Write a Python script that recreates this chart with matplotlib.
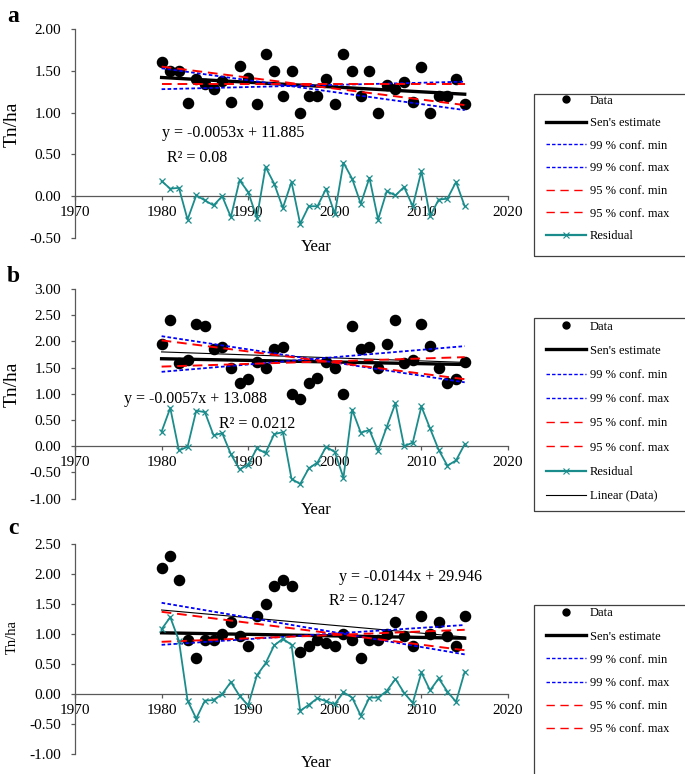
import numpy as np
import matplotlib
matplotlib.use("Agg")
from matplotlib import pyplot as plt
from matplotlib.lines import Line2D
from matplotlib.patches import Rectangle

plt.rcParams['font.family'] = ['Liberation Serif', 'DejaVu Serif']

W, H = 685, 774

years = list(range(1980, 2016))
trend_x = [1980, 2015]

# panel a
data_a = [1.60, 1.50, 1.50, 1.12, 1.40, 1.34, 1.28, 1.38, 1.13, 1.56, 1.41, 1.10,
          1.70, 1.50, 1.20, 1.50, 1.00, 1.20, 1.20, 1.40, 1.10, 1.70, 1.50, 1.20,
          1.50, 1.00, 1.33, 1.28, 1.37, 1.13, 1.55, 1.00, 1.20, 1.20, 1.40, 1.10]
resid_a = [0.18, 0.09, 0.10, -0.28, 0.01, -0.05, -0.11, 0.00, -0.25, 0.19, 0.05, -0.26,
           0.35, 0.15, -0.14, 0.17, -0.33, -0.12, -0.12, 0.09, -0.21, 0.40, 0.21, -0.09,
           0.22, -0.28, 0.06, 0.01, 0.11, -0.12, 0.30, -0.24, -0.04, -0.03, 0.17, -0.12]
sen_a = [1.42, 1.22]
c99min_a = [1.53, 1.03]
c99max_a = [1.28, 1.37]
c95min_a = [1.55, 1.09]
c95max_a = [1.34, 1.34]

# panel b
data_b = [1.95, 2.40, 1.58, 1.65, 2.34, 2.30, 1.86, 1.90, 1.50, 1.20, 1.29, 1.60,
          1.50, 1.86, 1.90, 1.00, 0.90, 1.20, 1.30, 1.60, 1.50, 1.00, 2.30, 1.86,
          1.90, 1.50, 1.96, 2.40, 1.58, 1.65, 2.34, 1.91, 1.50, 1.20, 1.29, 1.60]
resid_b = [0.28, 0.73, -0.08, -0.01, 0.68, 0.65, 0.21, 0.25, -0.15, -0.44, -0.35, -0.04,
           -0.13, 0.23, 0.27, -0.62, -0.72, -0.42, -0.31, -0.01, -0.11, -0.60, 0.70, 0.26,
           0.31, -0.09, 0.37, 0.82, 0.00, 0.07, 0.76, 0.34, -0.07, -0.37, -0.27, 0.04]
sen_b = [1.67, 1.56]
c99min_b = [2.10, 1.22]
c99max_b = [1.42, 1.91]
c95min_b = [2.02, 1.28]
c95max_b = [1.52, 1.70]
lin_b = [1.80, 1.60]

# panel c
data_c = [2.10, 2.30, 1.90, 0.90, 0.60, 0.90, 0.90, 1.00, 1.20, 0.97, 0.80, 1.30,
          1.50, 1.80, 1.90, 1.80, 0.70, 0.80, 0.90, 0.85, 0.80, 1.00, 0.90, 0.60,
          0.90, 0.90, 1.00, 1.20, 0.97, 0.80, 1.30, 1.00, 1.20, 0.97, 0.80, 1.30]
resid_c = [1.08, 1.28, 0.89, -0.11, -0.41, -0.11, -0.10, 0.00, 0.20, -0.03, -0.19, 0.31,
           0.51, 0.81, 0.92, 0.82, -0.28, -0.18, -0.07, -0.12, -0.17, 0.03, -0.06, -0.36,
           -0.06, -0.06, 0.05, 0.25, 0.02, -0.15, 0.36, 0.06, 0.26, 0.04, -0.13, 0.37]
sen_c = [1.02, 0.93]
c99min_c = [1.52, 0.66]
c99max_c = [0.82, 1.15]
c95min_c = [1.37, 0.73]
c95max_c = [0.87, 1.07]
lin_c = [1.40, 0.95]

labels = ["Data", "Sen's estimate", "99 % conf. min", "99 % conf. max",
          "95 % conf. min", "95 % conf. max", "Residual", "Linear (Data)"]

TEAL = '#1b8c8c'
AX = '#595959'


def fx(px):
    return px / W


def fy(py):
    return 1 - py / H


def Panel(fig, top, bottom, ylo, yhi, data, resid, sen, c99, c95, lin=None):
    ax = fig.add_axes([fx(75), fy(bottom), fx(508) - fx(75), fy(top) - fy(bottom)])
    ax.plot(years, data, 'o', color='black', markersize=7.3, zorder=3)
    ax.plot(trend_x, sen, color='black', lw=2.4, zorder=4)
    for c in c99:
        ax.plot(trend_x, c, color='#0000ff', lw=1.3, ls=(0, (2, 1.3)), zorder=5)
    for c in c95:
        ax.plot(trend_x, c, color='#ff0000', lw=1.4, ls=(0, (5, 3)), zorder=5)
    if lin is not None:
        ax.plot(trend_x, lin, color='black', lw=0.8, zorder=4)
    ax.plot(years, resid, color=TEAL, lw=1.3, marker='x', markersize=5,
            markeredgewidth=0.9, zorder=6)

    ax.set_xlim(1970, 2020)
    ax.set_ylim(ylo, yhi)
    ax.set_xticks(range(1970, 2021, 10))
    ax.set_yticks(np.arange(ylo, yhi + 0.01, 0.5))
    ax.yaxis.set_major_formatter(matplotlib.ticker.FormatStrFormatter('%.2f'))
    ax.spines['top'].set_visible(False)
    ax.spines['right'].set_visible(False)
    ax.spines['bottom'].set_position(('data', 0))
    for s in ['left', 'bottom']:
        ax.spines[s].set_color(AX)
        ax.spines[s].set_linewidth(0.9)
    ax.tick_params(axis='both', colors=AX, labelcolor='black', length=3,
                   width=0.9, labelsize=11)
    ax.tick_params(axis='y', pad=7)
    ax.tick_params(axis='x', pad=4)
    ax.patch.set_alpha(0)
    return ax


fig = plt.figure(figsize=(W / 100, H / 100), dpi=100)

Panel(fig, 29, 238, -0.5, 2.0, data_a, resid_a, sen_a,
      [c99min_a, c99max_a], [c95min_a, c95max_a])
Panel(fig, 289, 498.7, -1.0, 3.0, data_b, resid_b, sen_b,
      [c99min_b, c99max_b], [c95min_b, c95max_b], lin_b)
Panel(fig, 544, 754, -1.0, 2.5, data_c, resid_c, sen_c,
      [c99min_c, c99max_c], [c95min_c, c95max_c], lin_c)

# letters, axis titles, equations
for t, py in [("a", 16), ("b", 277), ("c", 529)]:
    fig.text(fx(13), fy(py), t, fontsize=17, fontweight='bold', ha='center', va='center')
for py, fs in [(124, 14), (384, 14), (637, 10.5)]:
    fig.text(fx(12), fy(py), "Tn/ha", fontsize=fs, rotation=90, ha='center', va='center')
for py in [247, 510, 763]:
    fig.text(fx(316), fy(py), "Year", fontsize=12, ha='center', va='center')

eqs = [("y = -0.0053x + 11.885", 162, 133), ("R² = 0.08", 167, 158),
       ("y = -0.0057x + 13.088", 124, 399), ("R² = 0.0212", 219, 424),
       ("y = -0.0144x + 29.946", 339, 577), ("R² = 0.1247", 329, 601)]
for s, px, py in eqs:
    fig.text(fx(px), fy(py), s, fontsize=11.5, ha='left', va='center')

# legends
handles = [
    Line2D([], [], ls='none', marker='o', color='black', markersize=5),
    Line2D([], [], color='black', lw=2.4),
    Line2D([], [], color='#0000ff', lw=1.0, ls=(0, (2.5, 1.5))),
    Line2D([], [], color='#0000ff', lw=1.0, ls=(0, (2.5, 1.5))),
    Line2D([], [], color='#ff0000', lw=1.0, ls=(0, (6, 4))),
    Line2D([], [], color='#ff0000', lw=1.0, ls=(0, (6, 4))),
    Line2D([], [], color=TEAL, lw=1.6, marker='x', markersize=4, markeredgewidth=0.8),
    Line2D([], [], color='black', lw=0.8),
]

# box top, box bottom, entries, first row centre, row spacing
boxes = [(94, 256, 7, 100, 0.85), (318, 511, 8, 326, 0.98), (605, 790, 6, 613, 0.89)]
for top, bot, n, first, sp in boxes:
    fig.patches.append(Rectangle((fx(534), fy(bot)), fx(700) - fx(534), fy(top) - fy(bot),
                                 transform=fig.transFigure, fill=False,
                                 edgecolor='#404040', lw=0.9))
    fig.legend(handles[:n], labels[:n], loc='upper left', frameon=False,
               bbox_to_anchor=(fx(546), fy(first - 5.5)), fontsize=9,
               handlelength=3.2, handletextpad=0.3, labelspacing=sp,
               borderpad=0, borderaxespad=0)

fig.savefig("out.png", dpi=100)
